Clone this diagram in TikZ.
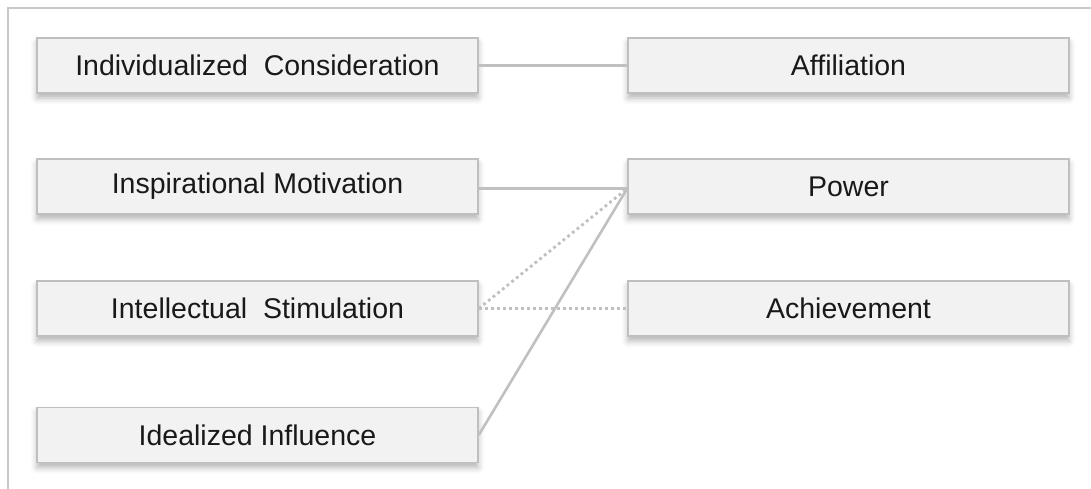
\documentclass[tikz,border=0pt]{standalone}
\usepackage{fontspec}
\setmainfont{Liberation Sans}
\usetikzlibrary{shadows.blur}
\definecolor{boxfill}{HTML}{F2F2F2}
\definecolor{boxline}{HTML}{BFBFBF}
\definecolor{conn}{HTML}{C0C0C0}
\definecolor{framec}{HTML}{C8C8C8}
\begin{document}
\begin{tikzpicture}[x=1pt,y=1pt,
  box/.style={draw=boxline, line width=1.6pt, fill=boxfill,
    minimum width=441pt, minimum height=55pt, inner sep=0pt,
    font=\fontsize{28.5}{32}\selectfont, text=black!90,
    blur shadow={shadow xshift=0pt, shadow yshift=-5pt, shadow blur radius=6pt, shadow opacity=30}},
  link/.style={draw=conn, line width=2.6pt},
  dotlink/.style={draw=conn, line width=2.8pt, dash pattern=on 2.8pt off 3.2pt}]
\useasboundingbox (0,0) rectangle (1091,-488);
\draw[framec, line width=2pt] (8,-492) -- (8,-8) -- (1095,-8);
\node[box] (ic) at (257.5,-65.5) {Individualized\ \ Consideration};
\node[box] (im) at (257.5,-186.5) {Inspirational Motivation};
\node[box] (is) at (257.5,-308.5) {Intellectual\ \ Stimulation};
\node[box] (ii) at (257.5,-435) {Idealized Influence};
\node[box] (af) at (848.5,-65.5) {Affiliation};
\node[box] (pw) at (848.5,-186.5) {Power};
\node[box] (ac) at (848.5,-308.5) {Achievement};
\coordinate (pwin) at ([yshift=-2pt]pw.west);
\draw[link] ([yshift=-2pt]im.east) -- (pwin);
\draw[link] (ic.east) -- (af.west);
\draw[dotlink] (is.east) -- (pwin);
\draw[dotlink] (is.east) -- (ac.west);
\draw[link] (ii.east) -- (pwin);
\end{tikzpicture}
\end{document}
